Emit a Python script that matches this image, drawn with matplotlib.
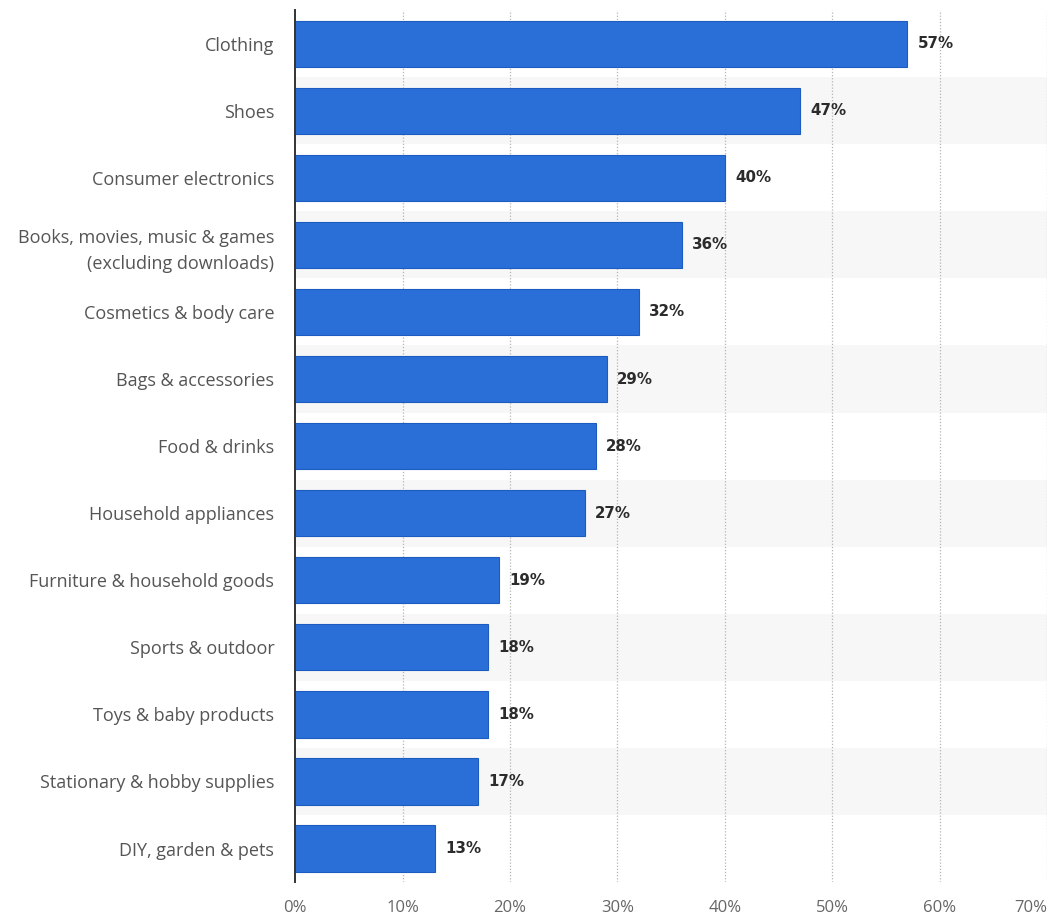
import matplotlib.pyplot as plt
import numpy as np

# data (top to bottom as shown)
categories = [
    'Clothing',
    'Shoes',
    'Consumer electronics',
    'Books, movies, music & games\n(excluding downloads)',
    'Cosmetics & body care',
    'Bags & accessories',
    'Food & drinks',
    'Household appliances',
    'Furniture & household goods',
    'Sports & outdoor',
    'Toys & baby products',
    'Stationary & hobby supplies',
    'DIY, garden & pets',
]
shares = [57, 47, 40, 36, 32, 29, 28, 27, 19, 18, 18, 17, 13]
x_ticks = [0, 10, 20, 30, 40, 50, 60, 70]

fig = plt.figure(figsize=(10.54, 9.21), dpi=100)
ax = fig.add_axes([0.280, 0.0423, 0.7134, 0.9467])

n = len(categories)
y = np.arange(n)

# alternating row bands
for i in range(n):
    if i % 2 == 1:
        ax.axhspan(i - 0.5, i + 0.5, color='#f7f7f7', zorder=0, lw=0)

# dotted vertical gridlines
for t in x_ticks[1:]:
    ax.axvline(t, color='#b5b5b5', ls=(0, (1, 1.5)), lw=0.9, zorder=1)

ax.barh(y, shares, height=0.69, color='#2a6fd8', edgecolor='#1c5cc0',
        linewidth=0.8, zorder=2)

for yi, v in zip(y, shares):
    ax.text(v + 0.95, yi, f'{v}%', va='center', ha='left', fontsize=10.8,
            fontweight='bold', color='#2b2b2b', family='DejaVu Sans', zorder=3)

ax.set_xlim(0, 70)
ax.set_ylim(n - 0.5, -0.5)
ax.set_yticks(y)
ax.set_yticklabels(categories, fontsize=13, color='#555555', family='Open Sans',
                   linespacing=1.55)
ax.set_xticks(x_ticks)
xlabels = ax.set_xticklabels([f'{t}%' for t in x_ticks], fontsize=12,
                             color='#666666', family='Open Sans')
# last tick label sits against the right edge
xlabels[-1].set_horizontalalignment('right')
ax.tick_params(axis='y', length=0, pad=15)
ax.tick_params(axis='x', length=0, pad=13)

for s in ['top', 'right', 'bottom']:
    ax.spines[s].set_visible(False)
ax.spines['left'].set_color('#333333')
ax.spines['left'].set_linewidth(1.4)
ax.spines['left'].set_zorder(4)

plt.savefig('out.png', dpi=100)
plt.close()
